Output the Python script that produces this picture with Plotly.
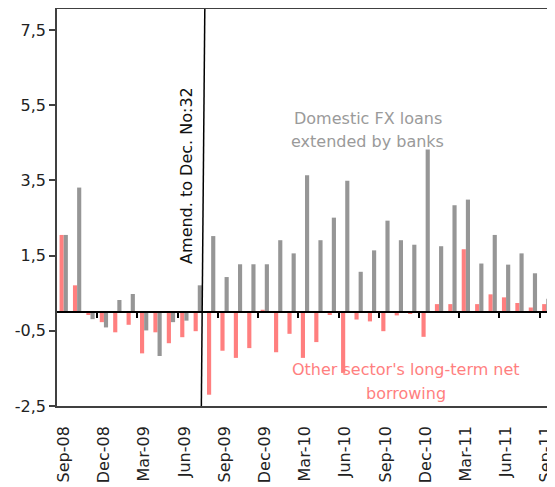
import plotly.graph_objects as go

months = ["Sep-08","Oct-08","Nov-08","Dec-08","Jan-09","Feb-09","Mar-09","Apr-09","May-09","Jun-09",
          "Jul-09","Aug-09","Sep-09","Oct-09","Nov-09","Dec-09","Jan-10","Feb-10","Mar-10","Apr-10",
          "May-10","Jun-10","Jul-10","Aug-10","Sep-10","Oct-10","Nov-10","Dec-10","Jan-11","Feb-11",
          "Mar-11","Apr-11","May-11","Jun-11","Jul-11","Aug-11","Sep-11"]

other_sector = [2.05, 0.71, -0.08, -0.27, -0.54, -0.34, -1.10, -0.54, -0.83, -0.67,
                -0.51, -2.20, -1.03, -1.22, -0.96, 0.06, -1.07, -0.58, -1.22, -0.80,
                -0.08, -1.62, -0.20, -0.25, -0.51, -0.09, -0.05, -0.66, 0.21, 0.21,
                1.67, 0.21, 0.47, 0.39, 0.24, 0.12, 0.21]

domestic_fx = [2.05, 3.31, -0.19, -0.41, 0.32, 0.48, -0.49, -1.17, -0.27, -0.23,
               0.71, 2.02, 0.93, 1.27, 1.27, 1.27, 1.91, 1.56, 3.64, 1.91,
               2.51, 3.49, 1.07, 1.64, 2.43, 1.91, 1.79, 4.32, 1.75, 2.84,
               2.99, 1.29, 2.05, 1.26, 1.56, 1.03, 0.35]

y_tick_vals = [-2.5, -0.5, 1.5, 3.5, 5.5, 7.5]
y_tick_labels = ["-2,5", "-0,5", "1,5", "3,5", "5,5", "7,5"]
x_tick_labels = months[::3]

Y_MIN, Y_MAX = -2.5, 8.06
FONT = "DejaVu Sans"

fig = go.Figure()
fig.add_trace(go.Bar(x=months, y=other_sector, name="Other sector's long-term net borrowing",
                     marker=dict(color="#FF7F7F", line=dict(width=0))))
fig.add_trace(go.Bar(x=months, y=domestic_fx, name="Domestic FX loans extended by banks",
                     marker=dict(color="#969696", line=dict(width=0))))
# helper (empty) trace so the zero-crossing axis is rendered
fig.add_trace(go.Scatter(x=[], y=[], xaxis="x2", yaxis="y", showlegend=False, hoverinfo="skip"))

zero_pos = (0 - Y_MIN) / (Y_MAX - Y_MIN)
boundary_ticks = [i + 2.5 for i in range(0, 36, 3)]

# page body has an 8px default margin, so the figure is sized/placed to compensate
fig.update_layout(
    width=547, height=479,
    margin=dict(l=49, r=2, t=1, b=81, autoexpand=False),
    paper_bgcolor="white", plot_bgcolor="white",
    showlegend=False,
    barmode="group", bargap=0.38, bargroupgap=0,
    font=dict(family=FONT, size=16, color="#222"),
    xaxis=dict(type="category", categoryorder="array", categoryarray=months,
               tickmode="array", tickvals=x_tick_labels, ticktext=x_tick_labels,
               tickangle=-90, ticks="", ticklabelstandoff=12, automargin=False,
               showline=True, linecolor="#404040", linewidth=1.5, mirror=True,
               showgrid=False, zeroline=False, tickfont=dict(size=16, color="#222")),
    xaxis2=dict(overlaying="x", anchor="free", position=zero_pos, automargin=False,
                range=[-0.5, 36.5], tickmode="array", tickvals=boundary_ticks,
                ticks="outside", ticklen=5, tickwidth=1.5, tickcolor="black",
                showticklabels=False, showline=True, linecolor="black", linewidth=1.5,
                showgrid=False, zeroline=False),
    yaxis=dict(range=[Y_MIN, Y_MAX], tickmode="array", tickvals=y_tick_vals, ticktext=y_tick_labels,
               ticks="outside", ticklen=6, tickwidth=1.5, tickcolor="#404040", automargin=False,
               showline=True, linecolor="#404040", linewidth=1.5, mirror=True,
               showgrid=False, zeroline=False, tickfont=dict(size=16, color="#222")),
)

# vertical marker line (amendment)
fig.add_shape(type="line", xref="paper", yref="paper", x0=0.298, y0=1, x1=0.291, y1=0,
              line=dict(color="black", width=1.5))

fig.add_annotation(text="Amend. to Dec. No:32", xref="paper", yref="paper", x=0.262, y=0.582,
                   xanchor="center", yanchor="middle",
                   textangle=-90, showarrow=False, font=dict(family=FONT, size=16, color="#111"))

gray_lines = ["Domestic FX loans", "extended by banks"]
for txt, yy in zip(gray_lines, [0.7254, 0.6675]):
    fig.add_annotation(text=txt, xref="paper", yref="paper", x=0.627, y=yy, showarrow=False,
                       xanchor="center", yanchor="middle",
                       font=dict(family=FONT, size=16, color="#9a9a9a"))

pink_lines = ["Other sector's long-term net", "borrowing"]
for txt, yy in zip(pink_lines, [0.0907, 0.0327]):
    fig.add_annotation(text=txt, xref="paper", yref="paper", x=0.704, y=yy, showarrow=False,
                       xanchor="center", yanchor="middle",
                       font=dict(family=FONT, size=16, color="#FF7F7F"))

fig.write_html("out.html")
